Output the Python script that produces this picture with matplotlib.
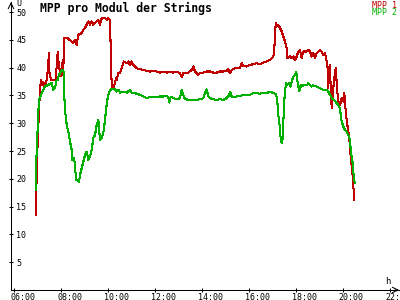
import matplotlib
matplotlib.use("Agg")
import matplotlib.pyplot as plt
import matplotlib.transforms as mtransforms

# time in decimal hours, voltage per module in V
RED_T = [6.925, 6.955, 6.968, 7.010, 7.053, 7.096, 7.138, 7.194, 7.236, 7.279, 7.339, 7.381,
         7.424, 7.480, 7.492, 7.565, 7.663, 7.765, 7.851, 7.876, 7.919, 7.949, 8.021, 8.064,
         8.089, 8.119, 8.277, 8.345, 8.448, 8.516, 8.588, 8.661, 8.729, 8.874, 8.942, 9.015,
         9.087, 9.155, 9.228, 9.300, 9.369, 9.441, 9.514, 9.582, 9.654, 9.727, 9.868, 9.940,
         10.008, 10.081, 10.102, 10.123, 10.166, 10.209, 10.294, 10.337, 10.367, 10.435, 10.507,
         10.580, 10.622, 10.678, 10.793, 10.861, 10.934, 11.006, 11.074, 11.147, 11.219, 11.360,
         11.501, 11.646, 11.787, 11.927, 12.072, 12.213, 12.354, 12.499, 12.639, 12.780, 12.925,
         13.066, 13.138, 13.206, 13.420, 13.565, 13.633, 13.706, 13.778, 13.846, 13.919, 14.060,
         14.204, 14.345, 14.486, 14.631, 14.772, 14.912, 15.057, 15.125, 15.198, 15.270, 15.411,
         15.625, 15.697, 15.765, 15.910, 16.051, 16.191, 16.336, 16.477, 16.617, 16.762, 16.904,
         16.976, 17.044, 17.075, 17.117, 17.147, 17.189, 17.258, 17.330, 17.403, 17.471, 17.544,
         17.616, 17.642, 17.757, 17.829, 17.898, 17.970, 18.043, 18.111, 18.183, 18.256, 18.324,
         18.469, 18.537, 18.610, 18.682, 18.750, 18.823, 18.895, 19.036, 19.108, 19.177, 19.249,
         19.322, 19.364, 19.390, 19.420, 19.463, 19.492, 19.535, 19.603, 19.675, 19.718, 19.748,
         19.816, 19.889, 19.961, 20.029, 20.072, 20.102, 20.144, 20.200, 20.242, 20.285, 20.345,
         20.430, 20.498]
RED_V = [13.5, 21.6, 23.4, 27.9, 32.4, 36.0, 37.8, 36.9, 37.5, 36.6, 36.9, 37.8,
         39.3, 42.6, 39.3, 37.8, 37.8, 37.8, 42.9, 41.4, 40.2, 38.4, 38.7, 41.4,
         39.0, 45.3, 45.3, 45.0, 44.7, 44.4, 45.0, 44.1, 45.9, 46.2, 46.8, 47.1,
         47.7, 48.3, 47.7, 48.3, 47.7, 48.0, 48.3, 48.6, 47.7, 48.9, 48.9, 48.6,
         48.9, 48.6, 45.0, 39.6, 36.3, 36.1, 37.2, 38.1, 37.8, 39.0, 39.0,
         39.9, 40.5, 41.1, 40.8, 41.1, 40.5, 41.1, 40.5, 40.2, 39.9, 39.7,
         39.6, 39.4, 39.3, 39.4, 39.3, 39.1, 39.3, 39.1, 39.3, 39.1, 39.3,
         39.0, 38.3, 39.0, 39.1, 39.6, 40.2, 39.3, 39.0, 38.7, 39.0, 39.1,
         39.3, 39.3, 39.1, 39.1, 39.3, 39.3, 39.4, 39.7, 39.0, 39.6, 39.9,
         39.9, 40.8, 40.3, 40.2, 40.5, 40.6, 40.8, 40.6, 40.9, 41.1, 41.4,
         41.7, 41.9, 42.9, 45.3, 48.0, 47.4, 47.7, 47.1, 46.5, 45.6, 44.7,
         43.5, 41.7, 42.0, 41.7, 42.0, 41.4, 42.0, 42.9, 43.2, 41.7, 42.9,
         42.9, 43.2, 42.9, 42.0, 42.6, 41.7, 42.6, 43.2, 42.9, 42.3, 42.6,
         41.1, 39.9, 36.3, 39.6, 40.5, 36.3, 32.7, 36.3, 39.3, 39.9, 36.9,
         33.9, 33.3, 34.5, 33.9, 35.4, 33.9, 31.5, 29.7, 28.5, 27.3, 24.0,
         20.4, 16.2]

GREEN_T = [6.925, 6.945, 6.998, 7.023, 7.053, 7.096, 7.168, 7.236, 7.309, 7.450, 7.595, 7.663,
           7.735, 7.808, 7.851, 7.906, 7.949, 8.047, 8.089, 8.132, 8.140, 8.162, 8.234, 8.303,
           8.375, 8.448, 8.455, 8.516, 8.546, 8.588, 8.631, 8.686, 8.759, 8.802, 8.874, 8.942,
           9.015, 9.087, 9.155, 9.228, 9.300, 9.369, 9.441, 9.514, 9.582, 9.654, 9.727, 9.795,
           9.868, 9.910, 9.966, 10.008, 10.081, 10.153, 10.294, 10.367, 10.435, 10.507, 10.648,
           10.793, 10.934, 11.006, 11.074, 11.219, 11.360, 11.501, 11.646, 11.787, 11.927, 12.072,
           12.213, 12.354, 12.499, 12.567, 12.610, 12.669, 12.780, 12.925, 13.066, 13.138, 13.206,
           13.279, 13.492, 13.778, 13.919, 14.060, 14.132, 14.204, 14.273, 14.345, 14.486, 14.631,
           14.772, 14.912, 15.057, 15.168, 15.198, 15.270, 15.339, 15.483, 15.625, 15.765, 15.910,
           16.051, 16.191, 16.336, 16.477, 16.617, 16.762, 16.904, 17.044, 17.160, 17.215, 17.258,
           17.301, 17.330, 17.373, 17.403, 17.445, 17.471, 17.501, 17.544, 17.586, 17.642, 17.727,
           17.787, 17.829, 17.898, 17.970, 18.013, 18.043, 18.068, 18.111, 18.154, 18.213, 18.256,
           18.324, 18.469, 18.537, 18.610, 18.682, 18.750, 18.895, 19.036, 19.177, 19.322, 19.390,
           19.463, 19.535, 19.675, 19.748, 19.816, 19.889, 19.918, 19.961, 20.029, 20.102, 20.174,
           20.242, 20.315, 20.345, 20.430, 20.486, 20.528]
GREEN_V = [18.0, 24.0, 29.4, 31.8, 34.2, 34.5, 35.4, 36.0, 36.6, 36.9, 37.2, 36.0,
           36.3, 37.8, 37.8, 38.7, 39.0, 39.6, 39.6, 38.4, 34.2, 32.4, 29.7, 28.5,
           26.7, 25.2, 23.4, 23.4, 23.7, 22.5, 19.8, 19.8, 19.5, 20.7, 21.9, 23.1,
           24.3, 24.9, 23.4, 24.0, 25.2, 27.3, 27.9, 29.7, 30.6, 27.0, 27.3, 28.2,
           30.6, 32.4, 34.2, 35.1, 36.0, 36.1, 36.1, 35.7, 36.0, 35.5, 35.7,
           35.5, 36.0, 35.4, 35.5, 35.3, 35.1, 34.8, 34.5, 34.7, 34.8, 34.7,
           34.8, 34.8, 34.9, 34.7, 33.7, 34.8, 34.5, 34.3, 34.5, 36.0, 35.1,
           34.3, 34.2, 34.2, 34.3, 34.5, 35.4, 36.1, 34.8, 34.5, 34.3, 34.2,
           34.3, 34.2, 34.5, 35.1, 35.7, 34.8, 34.7, 34.8, 34.9, 35.1, 35.1,
           35.1, 35.4, 35.4, 35.3, 35.5, 35.4, 35.7, 35.4, 35.3, 33.9, 31.5,
           30.3, 28.5, 26.7, 26.4, 27.3, 30.3, 33.3, 35.7, 37.2, 36.9, 37.2,
           36.6, 37.5, 38.4, 38.7, 39.2, 38.7, 37.8, 36.6, 35.7, 36.9, 36.6,
           36.8, 36.8, 37.2, 36.9, 36.6, 36.8, 36.6, 36.3, 36.0, 36.0, 35.7,
           35.1, 34.5, 34.0, 33.6, 33.3, 32.7, 31.5, 30.3, 29.4, 28.8, 28.5,
           27.9, 27.0, 25.2, 22.8, 19.8, 19.2]

X_TICKS = [6, 8, 10, 12, 14, 16, 18, 20, 22]
X_LABELS = ["06:00", "08:00", "10:00", "12:00", "14:00", "16:00", "18:00", "20:00", "22:00"]
Y_TICKS = [5, 10, 15, 20, 25, 30, 35, 40, 45, 50]

RED = "#c00000"
GREEN = "#00b000"
MONO = "DejaVu Sans Mono"

fig = plt.figure(figsize=(4, 3), dpi=100)
ax = fig.add_axes([11 / 400, 10 / 300, 388 / 400, 288 / 300])

ax.plot(RED_T, RED_V, color=RED, lw=0.75, antialiased=False)
ax.plot(GREEN_T, GREEN_V, color=GREEN, lw=0.75, antialiased=False)

ax.set_xlim(5.859, 22.405)
ax.set_ylim(0, 51.8)
for s in ("top", "right"):
    ax.spines[s].set_visible(False)
for s in ("left", "bottom"):
    ax.spines[s].set_linewidth(0.75)

ax.set_xticks(X_TICKS)
ax.set_xticklabels(X_LABELS)
ax.set_yticks(Y_TICKS)
ax.set_yticklabels([str(v) for v in Y_TICKS])
ax.tick_params(axis="both", direction="inout", length=3.5, width=0.75, labelsize=6)
ax.tick_params(axis="y", pad=-5.5)
ax.tick_params(axis="x", pad=0.5)
shift = mtransforms.ScaledTranslation(-4 / 100, 0, fig.dpi_scale_trans)
for lbl in ax.get_xticklabels():
    lbl.set_family(MONO)
    lbl.set_ha("left")
    lbl.set_transform(lbl.get_transform() + shift)
for lbl in ax.get_yticklabels():
    lbl.set_family(MONO)
    lbl.set_ha("left")

# axis arrows
ax.annotate("", xy=(1.0, 0), xytext=(0.99, 0), xycoords="axes fraction",
            arrowprops=dict(arrowstyle="->", lw=0.75, color="black", shrinkA=0, shrinkB=0))
ax.annotate("", xy=(0, 1.0), xytext=(0, 0.99), xycoords="axes fraction",
            arrowprops=dict(arrowstyle="->", lw=0.75, color="black", shrinkA=0, shrinkB=0))

fig.text(16 / 400, 1 - 4 / 300, "U", family=MONO, fontsize=6, ha="left", va="center")
fig.text(385 / 400, 1 - 281 / 300, "h", family=MONO, fontsize=6.5, ha="left", va="center")

fig.text(40 / 400, 1 - 8 / 300, "MPP pro Modul der Strings", family=MONO,
         fontweight="bold", fontsize=8.3, ha="left", va="center")
fig.text(397 / 400, 1 - 7.5 / 300, "MPP 1", family=MONO, fontsize=6, color=RED,
         ha="right", va="baseline")
fig.text(397 / 400, 1 - 15 / 300, "MPP 2", family=MONO, fontsize=6, color=GREEN,
         ha="right", va="baseline")

fig.savefig("out.png", dpi=100)
